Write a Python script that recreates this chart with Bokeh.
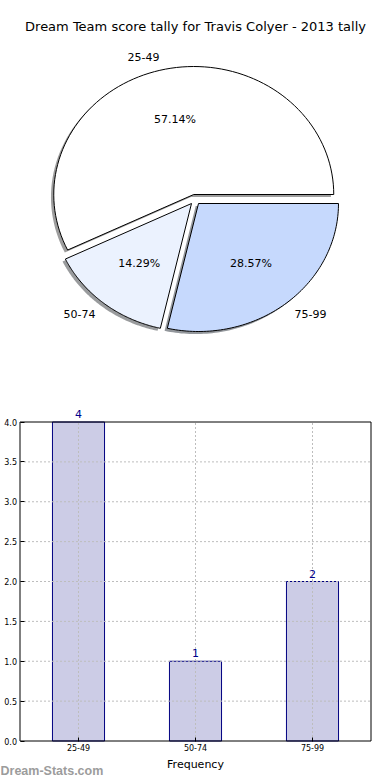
import numpy as np
from bokeh.plotting import figure
from bokeh.models import (Range1d, FactorRange, ColumnDataSource, LabelSet, Label, FixedTicker,
                          PrintfTickFormatter, Title, BoxAnnotation)
from bokeh.layouts import column
from bokeh.embed import file_html
from bokeh.resources import INLINE
from bokeh.core.properties import value, field

# ---------------- data ----------------
categories = ["25-49", "50-74", "75-99"]
counts = [4, 1, 2]
pie_colors = ["#ffffff", "#ebf2fe", "#c6d9fd"]
yticks = [0.0, 0.5, 1.0, 1.5, 2.0, 2.5, 3.0, 3.5, 4.0]
title_text = "Dream Team score tally for Travis Colyer - 2013 tally"
watermark = "Dream-Stats.com"

FONT = "DejaVu Sans"
W = 390

# ---------------- pie ----------------
PIE_H = 390
RX, RY = 140.0, 128.0          # pixel radii (pie is drawn squashed)
CX_PX, CY_PX = 194.5, 199.0    # pie centre in figure pixels
TOP = 40                       # top panel (title) height

explode = 0.04
shadow_off = 0.02

p1 = figure(width=W, height=PIE_H, output_backend="svg", toolbar_location=None,
            min_border_left=0, min_border_right=0, min_border_bottom=0, min_border_top=TOP,
            x_range=Range1d(-CX_PX / RX, (W - CX_PX) / RX),
            y_range=Range1d(-(PIE_H - CY_PX) / RY, (CY_PX - TOP) / RY))
p1.axis.visible = False
p1.grid.visible = False
p1.outline_line_color = None
p1.title = Title(text=title_text, align="center", text_font=FONT, text_font_size="13px",
                 text_font_style="normal", text_color="black", standoff=13)

total = float(sum(counts))
fracs = [c / total for c in counts]
starts = np.concatenate([[0.0], np.cumsum(fracs)[:-1]]) * 2 * np.pi
ends = np.cumsum(fracs) * 2 * np.pi

wx, wy, sx, sy = [], [], [], []
lab_x, lab_y, lab_align, pct_x, pct_y, pct_txt = [], [], [], [], [], []
for a0, a1, f in zip(starts, ends, fracs):
    mid = 0.5 * (a0 + a1)
    ox, oy = explode * np.cos(mid), explode * np.sin(mid)
    t = np.linspace(a0, a1, 90)
    xs = np.concatenate([[ox], ox + np.cos(t), [ox]])
    ys = np.concatenate([[oy], oy + np.sin(t), [oy]])
    wx.append(list(xs)); wy.append(list(ys))
    sx.append(list(xs - shadow_off)); sy.append(list(ys - shadow_off))
    lab_x.append(ox + 1.1 * np.cos(mid)); lab_y.append(oy + 1.1 * np.sin(mid))
    lab_align.append("right" if np.cos(mid) < 0 else "left")
    pct_x.append(ox + 0.6 * np.cos(mid)); pct_y.append(oy + 0.6 * np.sin(mid))
    pct_txt.append("%.2f%%" % (100 * f))

shadow_cols = []
for c in pie_colors:
    r, g, b = int(c[1:3], 16), int(c[3:5], 16), int(c[5:7], 16)
    shadow_cols.append("#%02x%02x%02x" % (int(r * 0.3), int(g * 0.3), int(b * 0.3)))

p1.patches(xs=sx, ys=sy, fill_color=shadow_cols, fill_alpha=0.55, line_color=None)
p1.patches(xs=wx, ys=wy, fill_color=pie_colors, line_color="black", line_width=1)

lsrc = ColumnDataSource(dict(x=lab_x, y=lab_y, t=categories, a=lab_align))
p1.text(x="x", y="y", text="t", source=lsrc, text_align=field("a"), text_baseline="middle",
        text_font=value(FONT), text_font_size="11px", text_color="black")
psrc = ColumnDataSource(dict(x=pct_x, y=pct_y, t=pct_txt))
p1.text(x="x", y="y", text="t", source=psrc, text_align="center", text_baseline="middle",
        text_font=value(FONT), text_font_size="11px", text_color="black")

# ---------------- bar ----------------
BAR_H = 390
F_LEFT, F_RIGHT = 19.5, 370.5     # axes box in figure pixels
F_TOP, F_BOT = 31.5, 350.5
YMAX = 4.0
n = len(categories)
px_per_cat = (F_RIGHT - F_LEFT) / n
pad = F_LEFT / px_per_cat
px_per_y = (F_BOT - F_TOP) / YMAX

p2 = figure(width=W, height=BAR_H, output_backend="svg", toolbar_location=None,
            x_range=FactorRange(*categories, range_padding=pad, range_padding_units="absolute"),
            y_range=Range1d(-(BAR_H - F_BOT) / px_per_y, YMAX + F_TOP / px_per_y),
            min_border_top=0, min_border_bottom=0, min_border_left=0, min_border_right=0)
p2.outline_line_color = None
p2.grid.visible = False

bsrc = ColumnDataSource(dict(cat=categories, count=counts, label=[str(c) for c in counts]))
p2.vbar(x="cat", top="count", width=0.445, source=bsrc, fill_color="#ccccE6",
        line_color="#000080", line_width=1)

# dotted grid (drawn over the bars, inside the axes box)
GRID = dict(line_color="#bdbdbd", line_dash="2 2", line_width=1)
inner = yticks[1:-1]
p2.segment(x0=[0] * len(inner), x1=[n] * len(inner), y0=inner, y1=inner, **GRID)
p2.segment(x0=categories, x1=categories, y0=[0] * n, y1=[YMAX] * n, **GRID)

p2.add_layout(BoxAnnotation(left=0, right=n, bottom=0, top=YMAX, fill_alpha=0,
                            line_color="black", line_alpha=1.0, line_width=1))

p2.yaxis.ticker = FixedTicker(ticks=yticks)
p2.yaxis.formatter = PrintfTickFormatter(format="%.1f")
p2.yaxis.fixed_location = 0
p2.xaxis.fixed_location = 0
for ax in (p2.xaxis, p2.yaxis):
    ax.axis_line_color = None
    ax.major_tick_line_color = "black"
    ax.major_tick_in = 4
    ax.major_tick_out = 0
    ax.minor_tick_line_color = None
    ax.major_label_text_font = FONT
    ax.major_label_text_font_size = "8px"
    ax.major_label_text_color = "black"
    ax.major_label_standoff = 3
p2.xaxis.axis_label = "Frequency"
p2.xaxis.axis_label_text_font = FONT
p2.xaxis.axis_label_text_font_size = "11px"
p2.xaxis.axis_label_text_font_style = "normal"
p2.xaxis.axis_label_text_color = "black"
p2.xaxis.axis_label_standoff = 3

p2.add_layout(LabelSet(x="cat", y="count", text="label", source=bsrc, text_align="center",
                       text_baseline="bottom", y_offset=4, text_color="#00008b",
                       text_font=value(FONT), text_font_size="11px"))

p2.add_layout(Label(x=-pad, y=-(380 - F_BOT) / px_per_y, text=watermark,
                    text_font="Liberation Sans", text_font_size="12.5px",
                    text_font_style="bold", text_color="#9c9c9c",
                    text_baseline="middle", text_align="left"))

layout = column(p1, p2, spacing=0)
open("out.html", "w").write(file_html(layout, INLINE))
